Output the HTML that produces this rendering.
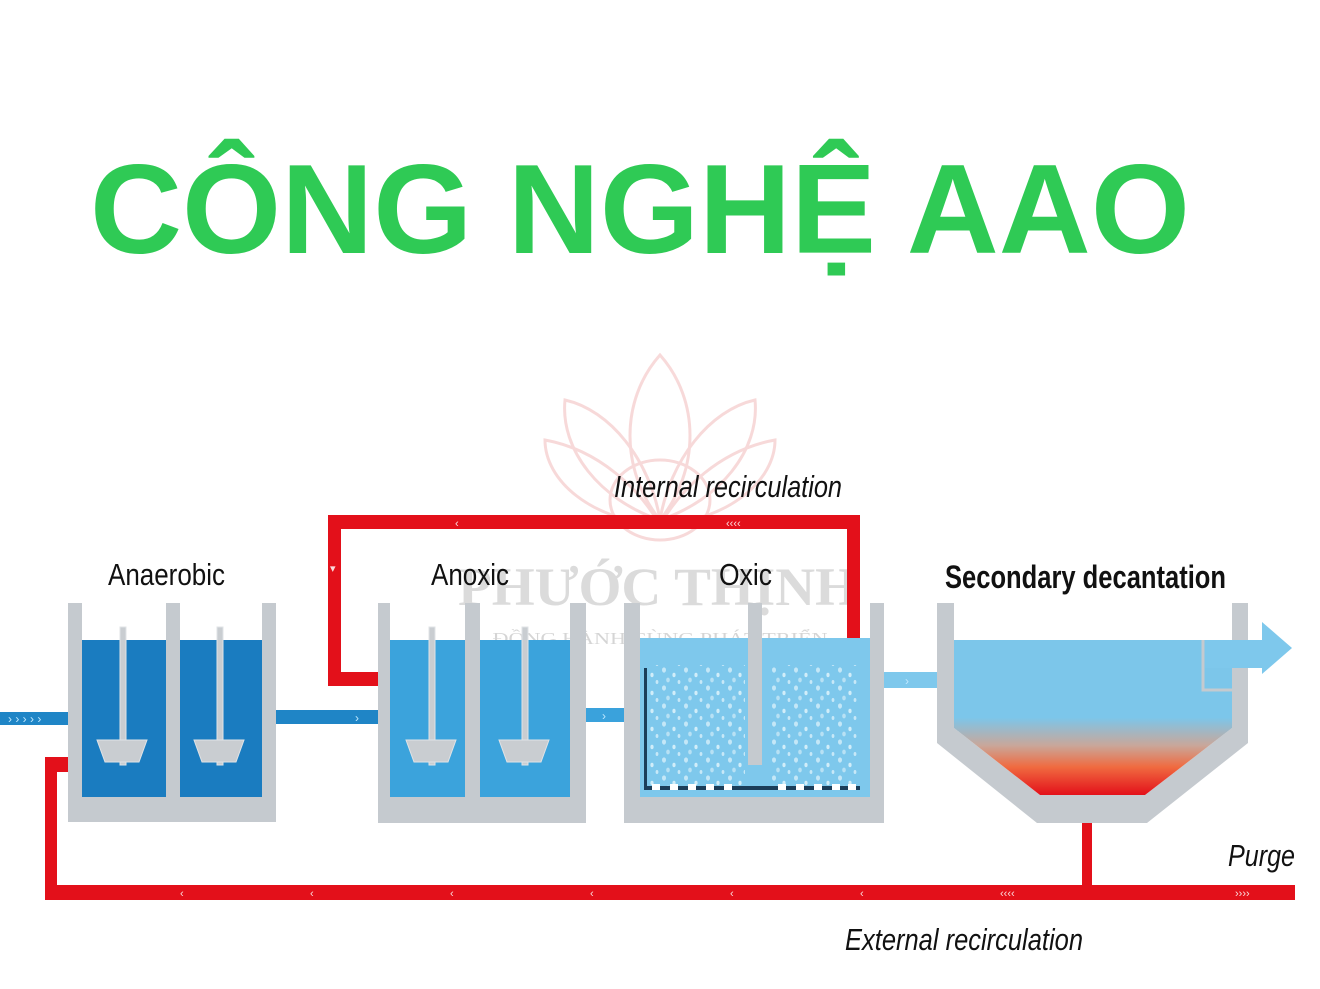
<!DOCTYPE html>
<html><head><meta charset="utf-8"><style>
html,body{margin:0;padding:0;background:#fff;}
svg{display:block}
</style></head><body>
<svg width="1320" height="989" viewBox="0 0 1320 989" xmlns="http://www.w3.org/2000/svg">
<defs>
<linearGradient id="sed" x1="0" y1="0" x2="0" y2="1">
<stop offset="0" stop-color="#7cc6ea"/>
<stop offset="0.5" stop-color="#7cc6ea"/>
<stop offset="0.68" stop-color="#c9a79a"/>
<stop offset="0.82" stop-color="#f06a40"/>
<stop offset="1" stop-color="#e3101a"/>
</linearGradient>
<pattern id="bub" width="22" height="18" patternUnits="userSpaceOnUse">
<ellipse cx="4" cy="4" rx="2" ry="2.6" fill="#d6effa" opacity="0.8"/>
<ellipse cx="14" cy="9" rx="1.6" ry="2.2" fill="#e6f6fd" opacity="0.8"/>
<ellipse cx="8" cy="14" rx="1.8" ry="2.4" fill="#d0ecf8" opacity="0.7"/>
<ellipse cx="19" cy="16" rx="1.4" ry="2" fill="#e6f6fd" opacity="0.7"/>
</pattern>
</defs>

<text x="90" y="253" font-family="Liberation Sans, sans-serif" font-weight="bold" font-size="127" fill="#2fca55" textLength="1100" lengthAdjust="spacingAndGlyphs">CÔNG NGHỆ AAO</text>

<!-- watermark -->
<g opacity="0.25" fill="none" stroke="#e36a6a" stroke-width="3">
<path d="M660 355 C620 400 620 470 660 520 C700 470 700 400 660 355Z"/>
<path d="M660 520 C600 500 560 450 565 400 C610 410 650 460 660 520Z"/>
<path d="M660 520 C720 500 760 450 755 400 C710 410 670 460 660 520Z"/>
<path d="M660 525 C590 520 545 480 545 440 C600 450 640 490 660 525Z"/>
<path d="M660 525 C730 520 775 480 775 440 C720 450 680 490 660 525Z"/>
<ellipse cx="660" cy="500" rx="50" ry="40"/>
</g>
<text x="658" y="605" text-anchor="middle" font-family="Liberation Serif, serif" font-weight="bold" font-size="54" fill="#999" opacity="0.35" textLength="400" lengthAdjust="spacingAndGlyphs">PHƯỚC THỊNH</text>
<text x="660" y="644" text-anchor="middle" font-family="Liberation Serif, serif" font-size="17" fill="#999" opacity="0.4" textLength="335" lengthAdjust="spacingAndGlyphs">ĐỒNG HÀNH CÙNG PHÁT TRIỂN</text>

<!-- labels -->
<g font-family="Liberation Sans Narrow, Liberation Sans, sans-serif" fill="#111">
<text x="614" y="497" font-style="italic" font-size="31" textLength="228" lengthAdjust="spacingAndGlyphs">Internal recirculation</text>
<text x="108" y="585" font-size="31" textLength="117" lengthAdjust="spacingAndGlyphs">Anaerobic</text>
<text x="431" y="585" font-size="31" textLength="78" lengthAdjust="spacingAndGlyphs">Anoxic</text>
<text x="719" y="585" font-size="31" textLength="53" lengthAdjust="spacingAndGlyphs">Oxic</text>
<text x="945" y="588" font-weight="bold" font-size="32" textLength="281" lengthAdjust="spacingAndGlyphs">Secondary decantation</text>
<text x="1228" y="866" font-style="italic" font-size="31" textLength="67" lengthAdjust="spacingAndGlyphs">Purge</text>
<text x="845" y="950" font-style="italic" font-size="31" textLength="238" lengthAdjust="spacingAndGlyphs">External recirculation</text>
</g>

<!-- red pipes -->
<g fill="#e3101a">
<rect x="328" y="515" width="532" height="14"/>
<rect x="847" y="515" width="13" height="125"/>
<rect x="328" y="515" width="13" height="170"/>
<rect x="328" y="672" width="62" height="14"/>
<rect x="45" y="885" width="1250" height="15"/>
<rect x="45" y="757" width="12" height="143"/>
<rect x="45" y="757" width="37" height="15"/>
<rect x="1082" y="795" width="10" height="95"/>
</g>
<g fill="#fff" opacity="0.85" font-family="Liberation Sans, sans-serif" font-size="11">
<text x="455" y="527">‹</text><text x="726" y="527">‹‹‹‹</text>
<text x="330" y="572">▾</text>
<text x="380" y="684">›</text>
<text x="180" y="897">‹</text><text x="310" y="897">‹</text><text x="450" y="897">‹</text><text x="590" y="897">‹</text><text x="730" y="897">‹</text><text x="860" y="897">‹</text><text x="1000" y="897">‹‹‹‹</text>
<text x="1235" y="897">››››</text>
<text x="72" y="770">›</text>
</g>

<!-- blue pipes -->
<rect x="0" y="712" width="82" height="13" fill="#1f85c6"/>
<rect x="262" y="710" width="128" height="14" fill="#1f85c6"/>
<rect x="570" y="708" width="70" height="14" fill="#3aa2dc"/>
<rect x="870" y="672" width="85" height="16" fill="#7ec8ec"/>
<g fill="#bfe8ff" font-family="Liberation Sans, sans-serif" font-size="12">
<text x="8" y="723">› › › › ›</text><text x="355" y="722">›</text><text x="602" y="720">›</text><text x="905" y="685">›</text>
</g>

<!-- Anaerobic tank -->
<path d="M68 603h14v194h84v-194h14v194h82v-194h14v219h-208z" fill="#c5cacf"/>
<rect x="82" y="640" width="84" height="157" fill="#1a7cc0"/>
<rect x="180" y="640" width="82" height="157" fill="#1a7cc0"/>
<!-- Anoxic tank -->
<path d="M378 603h12v194h75v-194h15v194h90v-194h16v220h-208z" fill="#c5cacf"/>
<rect x="390" y="640" width="75" height="157" fill="#3ba3dc"/>
<rect x="480" y="640" width="90" height="157" fill="#3ba3dc"/>
<!-- mixers -->
<g fill="#c9cdd1" stroke="#e0e3e6" stroke-width="1">
<rect x="120" y="627" width="6" height="138"/><path d="M97 740h50l-8 22h-34z"/>
<rect x="217" y="627" width="6" height="138"/><path d="M194 740h50l-8 22h-34z"/>
<rect x="429" y="627" width="6" height="138"/><path d="M406 740h50l-8 22h-34z"/>
<rect x="522" y="627" width="6" height="138"/><path d="M499 740h50l-8 22h-34z"/>
</g>

<!-- Oxic tank -->
<path d="M624 603h16v194h230v-194h14v220h-260z" fill="#c5cacf"/>
<rect x="640" y="638" width="230" height="159" fill="#7ec8ec"/>
<rect x="650" y="665" width="95" height="122" fill="url(#bub)"/>
<rect x="770" y="665" width="90" height="122" fill="url(#bub)"/>
<rect x="748" y="603" width="14" height="162" fill="#c5cacf"/>
<rect x="644" y="668" width="3" height="121" fill="#1b3e5a"/>
<rect x="644" y="786" width="216" height="4" fill="#1b3e5a"/>
<g fill="#fff"><rect x="652" y="784" width="8" height="6"/><rect x="670" y="784" width="8" height="6"/><rect x="688" y="784" width="8" height="6"/><rect x="706" y="784" width="8" height="6"/><rect x="724" y="784" width="8" height="6"/><rect x="778" y="784" width="8" height="6"/><rect x="796" y="784" width="8" height="6"/><rect x="814" y="784" width="8" height="6"/><rect x="832" y="784" width="8" height="6"/><rect x="848" y="784" width="8" height="6"/></g>

<!-- Secondary -->
<path d="M937 603h17v125l86 67h105l87-67v-125h16v140l-101 80h-110l-100-80z" fill="#c5cacf"/>
<path d="M954 640h278v88l-87 67h-105l-86-67z" fill="url(#sed)"/>
<rect x="1205" y="640" width="62" height="28" fill="#7ec8ec"/>
<path d="M1262 622l30 26-30 26z" fill="#7ec8ec"/>
<path d="M1203 640v50h30" fill="none" stroke="#c5cacf" stroke-width="3"/>
</svg>
</body></html>
